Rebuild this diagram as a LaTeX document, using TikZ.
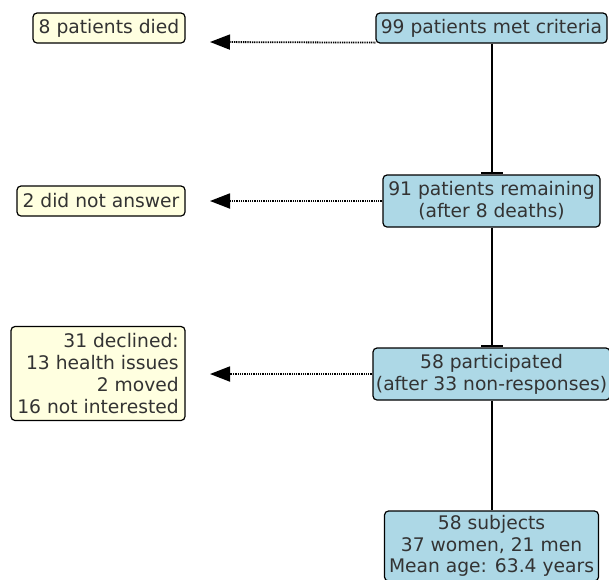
\documentclass[tikz,border=0pt]{standalone}
\usepackage{fontspec}
\setmainfont{DejaVu Sans}
\usetikzlibrary{arrows.meta}
\definecolor{txt}{RGB}{51,51,51}
\definecolor{boxblue}{RGB}{173,216,230}
\definecolor{boxyellow}{RGB}{255,255,224}
\tikzset{
  base/.style={draw=black, line width=1.2pt, rounded corners=4pt, inner sep=0pt,
    text=txt, font=\fontsize{18.7pt}{21.8pt}\selectfont},
  mainbox/.style={base, fill=boxblue, align=center},
  sidebox/.style={base, fill=boxyellow, align=right},
  flow/.style={line width=2pt, -{Bar[width=22pt,line width=2.5pt]}},
  flowplain/.style={line width=2pt},
  excl/.style={line width=1.8pt, dash pattern=on 1pt off 0.8pt,
    -{Triangle[length=20pt,width=15pt]}}
}
\begin{document}
\begin{tikzpicture}[x=1pt,y=-1pt]
\useasboundingbox (0,0) rectangle (609,579);
% main boxes
\node[mainbox, minimum width=231pt, minimum height=30pt] (b1) at (491.5,28) {99 patients met criteria};
\node[mainbox, minimum width=217pt, minimum height=52pt] (b2) at (491.5,201) {91 patients remaining\\(after 8 deaths)};
\node[mainbox, minimum width=237pt, minimum height=52pt] (b3) at (491.5,374) {58 participated\\(after 33 non-responses)};
\node[mainbox, minimum width=214pt, minimum height=70pt] (b4) at (491.5,546) {58 subjects\\37 women, 21 men\\Mean age: 63.4 years};
% side boxes
\node[sidebox, minimum width=152pt, minimum height=30pt] (s1) at (109,28) {8 patients died};
\node[sidebox, minimum width=168pt, minimum height=30pt] (s2) at (101,201) {2 did not answer};
\node[sidebox, minimum width=174pt, minimum height=94pt] (s3) at (98,373.5) {31 declined:\\13 health issues\\2 moved\\16 not interested};
% arrow ends
\coordinate (e1) at (210,42);
\coordinate (e2) at (210,201);
\coordinate (e3) at (210,374);
% vertical flow
\draw[flow] (b1.south) -- (b2.north);
\draw[flow] (b2.south) -- (b3.north);
\draw[flowplain] (b3.south) -- (b4.north);
% exclusions
\draw[excl] (b1.south west) ++(0,-1) -- (e1);
\draw[excl] (b2.west) -- (e2);
\draw[excl] (b3.west) -- (e3);
\end{tikzpicture}
\end{document}
